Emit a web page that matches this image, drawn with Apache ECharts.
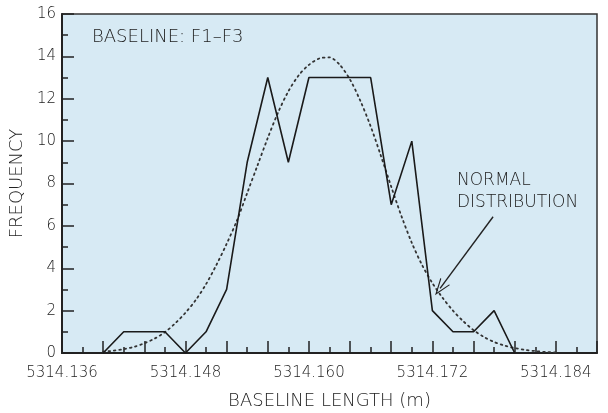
<!DOCTYPE html>
<html>
<head>
<meta charset="utf-8">
<script src="https://cdn.jsdelivr.net/npm/echarts@6/dist/echarts.min.js"></script>
<style>html,body{margin:0;padding:0;background:#fff}#c{width:608px;height:413px}</style>
</head>
<body>
<div id="c"></div>
<script>
// Histogram (frequency polygon) of baseline length, bins of 0.002 m
const binLength = [5314.140, 5314.142, 5314.144, 5314.146, 5314.148, 5314.150, 5314.152,
  5314.154, 5314.156, 5314.158, 5314.160, 5314.162, 5314.164, 5314.166, 5314.168,
  5314.170, 5314.172, 5314.174, 5314.176, 5314.178, 5314.180];
const frequency = [0, 1, 1, 1, 0, 1, 3, 9, 13, 9, 13, 13, 13, 13, 7, 10, 2, 1, 1, 2, 0];

// Normal distribution curve
const normalLength = [5314.140, 5314.141, 5314.142, 5314.143, 5314.144, 5314.145, 5314.146,
  5314.147, 5314.148, 5314.149, 5314.150, 5314.151, 5314.152, 5314.153, 5314.154, 5314.155,
  5314.156, 5314.157, 5314.158, 5314.159, 5314.160, 5314.161, 5314.162, 5314.163, 5314.164,
  5314.165, 5314.166, 5314.167, 5314.168, 5314.169, 5314.170, 5314.171, 5314.172, 5314.173,
  5314.174, 5314.175, 5314.176, 5314.177, 5314.178, 5314.179, 5314.180, 5314.181, 5314.182,
  5314.183, 5314.184];
const normalFreq = [0.06, 0.11, 0.18, 0.29, 0.46, 0.68, 0.98, 1.4, 1.9, 2.5, 3.25, 4.15, 5.15,
  6.25, 7.55, 8.85, 10.15, 11.35, 12.35, 13.1, 13.6, 13.9, 13.95, 13.6, 12.9, 11.9, 10.7, 9.3,
  7.85, 6.45, 5.2, 4.15, 3.3, 2.6, 2.0, 1.5, 1.08, 0.76, 0.52, 0.35, 0.23, 0.15, 0.09, 0.05, 0.03];

// Axis settings
const xMin = 5314.136, xMax = 5314.188, xStep = 0.004;
const xLabelValues = ['5314.136', '5314.148', '5314.160', '5314.172', '5314.184'];
const yMin = 0, yMax = 16, yStep = 2;

// Annotation arrow (data coordinates)
const arrowFrom = [5314.1779, 6.43];
const arrowTo = [5314.17275, 3.05];

const FONT = 'DejaVu Sans';
const FW = 200;
const ink = '#222';

const chart = echarts.init(document.getElementById('c'), null, {renderer: 'canvas'});
chart.setOption({
  backgroundColor: '#ffffff',
  animation: false,
  grid: {
    left: 62, right: 11, top: 14, bottom: 60, outerBoundsMode: 'none', containLabel: false,
    show: true, backgroundColor: '#d7eaf4', borderColor: '#333', borderWidth: 1.5
  },
  xAxis: {
    type: 'value', min: xMin, max: xMax, interval: xStep,
    name: 'BASELINE LENGTH (m)', nameLocation: 'middle', nameGap: 39,
    nameTextStyle: {fontFamily: FONT, fontWeight: FW, fontSize: 18, color: ink},
    axisLine: {show: true, onZero: false, lineStyle: {color: '#222', width: 2}},
    axisTick: {show: true, inside: true, length: 12, lineStyle: {color: '#222', width: 1.5}},
    minorTick: {show: true, splitNumber: 2, length: 6, lineStyle: {color: '#222', width: 1.5}},
    splitLine: {show: false},
    axisLabel: {
      fontFamily: FONT, fontWeight: FW, fontSize: 15, color: ink, margin: 13,
      formatter: function (v) {
        const s = Number(v).toFixed(3);
        return xLabelValues.indexOf(s) >= 0 ? s : '';
      }
    }
  },
  yAxis: {
    type: 'value', min: yMin, max: yMax, interval: yStep,
    name: 'FREQUENCY', nameLocation: 'middle', nameGap: 35, nameRotate: 90,
    nameTextStyle: {fontFamily: FONT, fontWeight: FW, fontSize: 18, color: ink},
    axisLine: {show: true, onZero: false, lineStyle: {color: '#222', width: 2}},
    axisTick: {show: true, inside: true, length: 12, lineStyle: {color: '#222', width: 1.5}},
    minorTick: {show: true, splitNumber: 2, length: 6, lineStyle: {color: '#222', width: 1.5}},
    splitLine: {show: false},
    axisLabel: {fontFamily: FONT, fontWeight: FW, fontSize: 15, color: ink, margin: 6}
  },
  graphic: [
    {type: 'text', left: 92, top: 28,
      style: {text: 'BASELINE: F1\u2013F3', font: FW + ' 18px "DejaVu Sans"', fill: ink}},
    {type: 'text', left: 457, top: 170,
      style: {text: 'NORMAL\nDISTRIBUTION', font: FW + ' 17px "DejaVu Sans"', fill: ink, lineHeight: 22}}
  ],
  series: [
    {
      type: 'line', name: 'Normal distribution',
      data: normalLength.map((x, i) => [x, normalFreq[i]]),
      smooth: 0.3, showSymbol: false, symbol: 'none',
      lineStyle: {color: '#333', width: 1.8, type: [1.6, 3.8], cap: 'round'},
      z: 2,
      markLine: {
        silent: true, animation: false,
        symbol: ['none', 'path://M0 0 L6 12 L4.8 12 L0 2.4 L-4.8 12 L-6 12 Z'],
        symbolSize: [12, 17],
        label: {show: false},
        lineStyle: {color: '#222', width: 1.4, type: 'solid'},
        data: [[{coord: arrowFrom}, {coord: arrowTo}]]
      }
    },
    {
      type: 'line', name: 'Frequency',
      data: binLength.map((x, i) => [x, frequency[i]]),
      showSymbol: false, symbol: 'none',
      lineStyle: {color: '#1a1a1a', width: 1.6},
      z: 3
    }
  ]
});
</script>
</body>
</html>
